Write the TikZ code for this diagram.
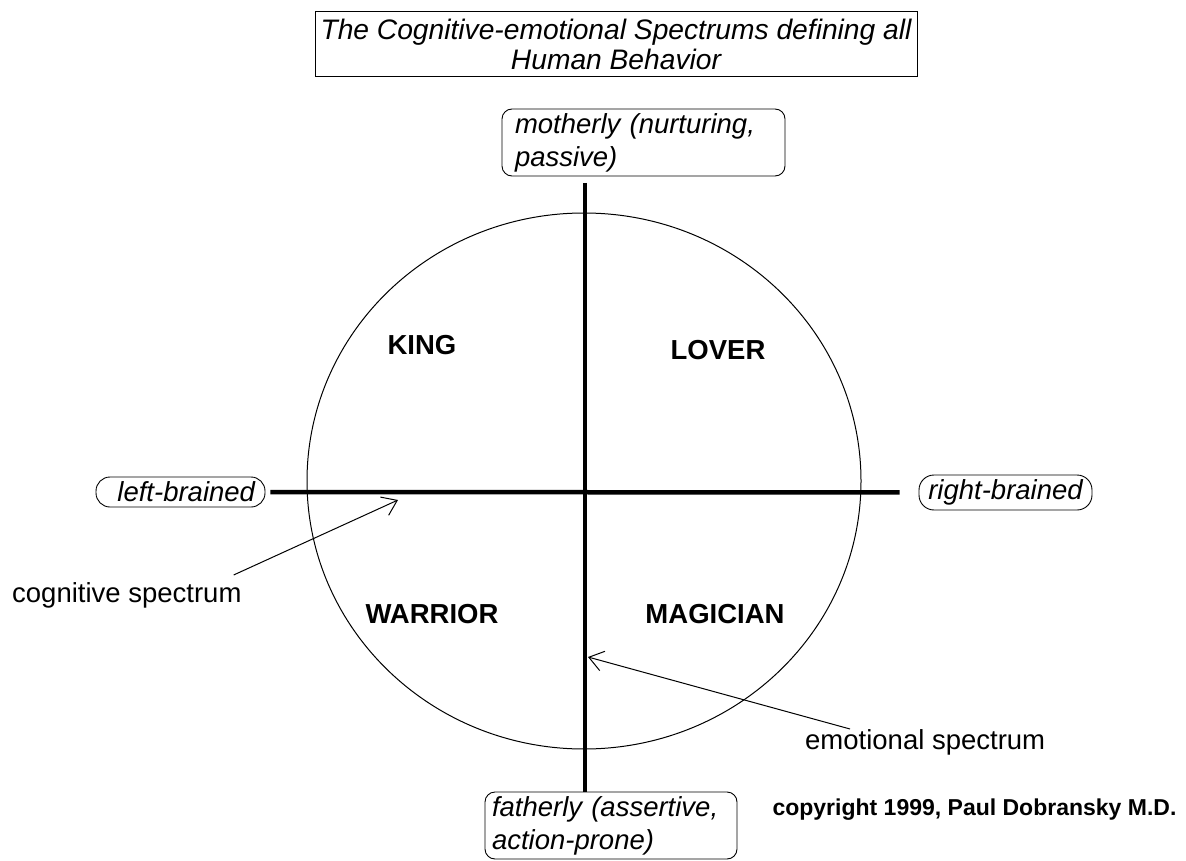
\documentclass[tikz,border=0pt]{standalone}
\usepackage{fontspec}
\setmainfont{Liberation Sans}
\usepackage{tikz}
\usetikzlibrary{arrows.meta}
\tikzset{
    lbl/.style={font=\fontsize{27.5}{33}\selectfont\itshape},
    tag/.style={lbl, draw, line width=0.9pt, inner sep=0pt},
    quad/.style={font=\fontsize{27.5}{33}\selectfont\bfseries},
    axis/.style={line width=4.5pt},
    pointer/.style={line width=1pt, -{Straight Barb[length=14pt,width=20pt]}}
}

\begin{document}
\begin{tikzpicture}[x=1pt,y=-1pt]
    \useasboundingbox (0,0) rectangle (1186,861);
    \node[draw, line width=1pt, minimum width=602pt, minimum height=65pt, align=center, font=\fontsize{28.2}{30}\selectfont\itshape] (title) at (616,44.5) {The Cognitive-emotional Spectrums defining all\\Human Behavior};

    \node[tag, rounded corners=10pt, minimum width=283pt, minimum height=67pt, text width=257pt, align=left] (mother) at (643.5,142.5) {motherly (nurturing,\\passive)};
    \node[tag, rounded corners=10pt, minimum width=252pt, minimum height=67pt, text width=238pt, align=left] (father) at (611,825.5) {fatherly (assertive,\\action-prone)};
    \node[tag, rounded corners=14pt, minimum width=169pt, minimum height=30pt, text width=149pt, align=right] (left) at (180.5,492) {left-brained};
    \node[tag, rounded corners=15pt, minimum width=173pt, minimum height=35pt] (right) at (1005.5,492.5) {right-brained};

    \draw[line width=1pt] (584,481) ellipse [x radius=277pt, y radius=268pt];

    \coordinate (vtop) at (585,183);
    \coordinate (vbot) at (585,792);
    \draw[axis] (vtop) -- (vbot);
    \draw[axis, shorten <=5pt, shorten >=19pt] (left.east) -- (right.west);

    \node[quad] (king) at (422,345) {KING};
    \node[quad] (lover) at (718,350) {LOVER};
    \node[quad] (warrior) at (432,614) {WARRIOR};
    \node[quad] (magician) at (715,614) {MAGICIAN};

    \node[font=\fontsize{27.5}{33}\selectfont, inner sep=0pt, anchor=west] (cogtext) at (12,595) {cognitive spectrum};
    \coordinate (cogtip) at (398,500);
    \draw[pointer] ([xshift=-8pt,yshift=7pt]cogtext.north east) -- (cogtip);

    \node[font=\fontsize{27.5}{33}\selectfont, inner sep=0pt, anchor=west] (emotext) at (805,742) {emotional spectrum};
    \coordinate (emotip) at (588,657);
    \draw[pointer] ([xshift=45pt]emotext.north west) -- (emotip);

    \node[font=\fontsize{23}{28}\selectfont\bfseries] (copy) at (974.5,810) {copyright 1999, Paul Dobransky M.D.};
\end{tikzpicture}
\end{document}
